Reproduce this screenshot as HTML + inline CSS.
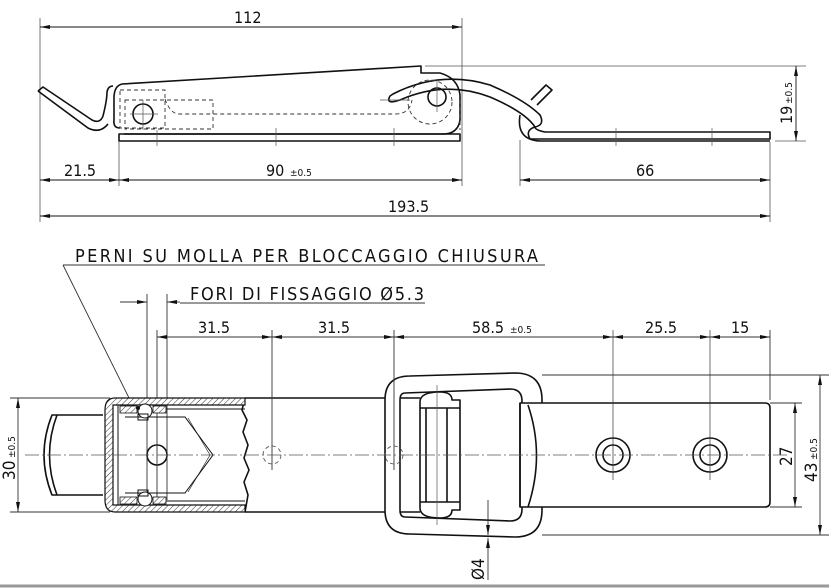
<!DOCTYPE html>
<html><head><meta charset="utf-8"><style>
html,body{margin:0;padding:0;background:#fff;}
svg{display:block;}
text{font-family:"DejaVu Sans Condensed","Liberation Sans",sans-serif;fill:#111;}
</style></head><body>
<svg width="829" height="588" viewBox="0 0 829 588" xmlns="http://www.w3.org/2000/svg">
<defs>
<pattern id="h" patternUnits="userSpaceOnUse" width="4" height="4" patternTransform="rotate(45)">
<rect width="4" height="4" fill="#fff"/><line x1="0" y1="0" x2="0" y2="4" stroke="#333" stroke-width="1"/></pattern>
<marker id="a" viewBox="0 0 10 4" refX="10" refY="2" markerWidth="10" markerHeight="4" orient="auto-start-reverse" markerUnits="userSpaceOnUse"><path d="M0,0L10,2L0,4z" fill="#111"/></marker>
</defs>
<rect width="829" height="588" fill="#fff"/>
<!-- ===== TOP VIEW ===== -->
<g stroke="#555" stroke-width="0.8" fill="none">
<line x1="40" y1="18" x2="40" y2="222"/>
<line x1="462" y1="18" x2="462" y2="186"/>
<line x1="119" y1="142" x2="119" y2="186"/>
<line x1="520" y1="140" x2="520" y2="186"/>
<line x1="770" y1="142" x2="770" y2="222"/>
<line x1="425" y1="66" x2="806" y2="66"/>
<line x1="775" y1="141" x2="806" y2="141"/>
</g>
<g stroke="#111" stroke-width="0.9" fill="none">
<line x1="40" y1="27" x2="462" y2="27" marker-start="url(#a)" marker-end="url(#a)"/>
<line x1="40" y1="180" x2="119" y2="180" marker-start="url(#a)" marker-end="url(#a)"/>
<line x1="119" y1="180" x2="462" y2="180" marker-start="url(#a)" marker-end="url(#a)"/>
<line x1="520" y1="180" x2="770" y2="180" marker-start="url(#a)" marker-end="url(#a)"/>
<line x1="40" y1="216" x2="770" y2="216" marker-start="url(#a)" marker-end="url(#a)"/>
<line x1="796" y1="66" x2="796" y2="141" marker-start="url(#a)" marker-end="url(#a)"/>
</g>
<text x="234" y="23" font-size="16">112</text>
<text x="64" y="176" font-size="16">21.5</text>
<text x="266" y="176" font-size="16">90</text><text x="290" y="176" font-size="10">±0.5</text>
<text x="636" y="176" font-size="16">66</text>
<text x="388" y="212" font-size="16">193.5</text>
<text transform="translate(792,124) rotate(-90)" font-size="16">19</text>
<text transform="translate(792,104) rotate(-90)" font-size="10">±0.5</text>
<!-- body -->
<g stroke="#111" stroke-width="1.6" fill="none" stroke-linejoin="round">
<path d="M120,128 Q113,128 114,120 L114,98 Q114,86 122,84 L421,66 L421,73 L440,73 Q458,78 460,95 L460,120 Q458,133 445,134 L124,134"/>
<rect x="119" y="134" width="341" height="7"/>
<path d="M38,91 L43,87 L92,120 Q100,124 103,116 Q107,100 107,92 Q108,86 113,86"/>
<path d="M38,91 L88,128 Q100,134 108,124"/>
<circle cx="143" cy="114" r="10"/>
<circle cx="437" cy="97" r="9"/>
<path d="M393,94 Q440,70 490,85 Q525,100 540,115 Q545,125 535,127 Q525,112 490,97 Q445,80 400,100 Q385,105 390,96 Z"/>
<path d="M535,127 Q525,130 530,139 L770,139 L770,132 L545,132 Q535,130 535,127"/>
<path d="M520,115 Q516,140 540,141 L770,141"/>
<path d="M531,100 L546,85 L552,90 L537,105"/>
</g>
<g stroke="#333" stroke-width="0.9" fill="none" stroke-dasharray="4,3">
<rect x="120" y="90" width="45" height="38"/>
<rect x="125" y="100" width="88" height="29"/>
<path d="M165,99 Q170,113 178,114 L395,114 Q410,114 412,100"/>
<circle cx="430" cy="102" r="22"/>
<line x1="460" y1="100" x2="460" y2="130"/>
</g>
<g stroke="#555" stroke-width="0.7">
<line x1="130" y1="114" x2="158" y2="114"/><line x1="143" y1="100" x2="143" y2="130"/>
<line x1="380" y1="100" x2="410" y2="100"/><line x1="437" y1="80" x2="437" y2="112"/>
<line x1="157" y1="130" x2="157" y2="146"/><line x1="276" y1="128" x2="276" y2="146"/><line x1="394" y1="128" x2="394" y2="146"/>
<line x1="616" y1="128" x2="616" y2="146"/><line x1="712" y1="128" x2="712" y2="146"/>
</g>
<!-- ===== BOTTOM VIEW ===== -->
<text x="75" y="262" font-size="18" textLength="463" lengthAdjust="spacing">PERNI SU MOLLA PER BLOCCAGGIO CHIUSURA</text>
<text x="190" y="300" font-size="18" textLength="234" lengthAdjust="spacing">FORI DI FISSAGGIO Ø5.3</text>
<g stroke="#111" stroke-width="1.6" fill="none" stroke-linejoin="round">
<path d="M103,415 L52,415 Q36,455 52,495 L103,495"/>
<path d="M57,415 Q42,455 57,495"/>
<line x1="245" y1="398" x2="420" y2="398"/><line x1="245" y1="512" x2="420" y2="512"/>
<path d="M245,398 L242,410 L247,420 L243,432 L248,445 L244,458 L249,470 L244,482 L248,495 L245,512"/>
<!-- buckle -->
<path d="M410,376 L515,373 Q542,373 542,400 L542,510 Q542,537 515,537 L410,534 Q385,534 385,510 L385,400 Q385,376 410,376 Z" fill="#fff"/>
<path d="M405,393 L510,389 Q522,389 522,401 L522,509 Q522,521 510,521 L405,517 Q400,517 400,510 L400,400 Q400,393 405,393 Z"/>
<line x1="400" y1="398" x2="420" y2="398"/><line x1="400" y1="512" x2="420" y2="512"/>
<path d="M520,403 L765,403 Q770,403 770,408 L770,502 Q770,507 765,507 L520,507 Z" fill="#fff"/>
<line x1="520" y1="403" x2="520" y2="507"/>
<path d="M528,405 Q545,455 528,507"/>
<path d="M420,402 Q420,392 440,392 Q452,392 452,400 L460,400 L460,510 L452,510 Q452,518 440,518 Q420,518 420,508 Z" fill="#fff"/>
<line x1="420" y1="408" x2="460" y2="408"/><line x1="420" y1="502" x2="460" y2="502"/>
<line x1="426" y1="408" x2="426" y2="502"/><line x1="447" y1="408" x2="447" y2="502"/>
<circle cx="613" cy="455" r="17"/><circle cx="613" cy="455" r="10"/>
<circle cx="710" cy="455" r="17"/><circle cx="710" cy="455" r="10"/>
<circle cx="157" cy="455" r="10"/>
</g>
<g stroke="#333" stroke-width="0.9" fill="none">
<line x1="63" y1="265" x2="545" y2="265"/>
<line x1="63" y1="265" x2="133" y2="406"/>
<line x1="180" y1="303" x2="425" y2="303"/>
<line x1="120" y1="302" x2="147" y2="302" marker-end="url(#a)"/>
<line x1="180" y1="302" x2="167" y2="302" marker-end="url(#a)"/>
<line x1="147" y1="294" x2="147" y2="500"/>
<line x1="157" y1="330" x2="157" y2="500"/>
<line x1="167" y1="294" x2="167" y2="500"/>
<line x1="272" y1="330" x2="272" y2="470"/>
<line x1="394" y1="330" x2="394" y2="470"/>
<line x1="613" y1="330" x2="613" y2="480" stroke-width="0.7"/>
<line x1="710" y1="330" x2="710" y2="480" stroke-width="0.7"/>
<line x1="770" y1="330" x2="770" y2="400"/>
<line x1="10" y1="398" x2="110" y2="398"/><line x1="10" y1="512" x2="110" y2="512"/>
<line x1="542" y1="375" x2="829" y2="375"/><line x1="542" y1="535" x2="829" y2="535"/>
<line x1="770" y1="403" x2="802" y2="403"/><line x1="770" y1="507" x2="802" y2="507"/>
<line x1="157" y1="337" x2="272" y2="337" marker-start="url(#a)" marker-end="url(#a)"/>
<line x1="272" y1="337" x2="394" y2="337" marker-start="url(#a)" marker-end="url(#a)"/>
<line x1="394" y1="337" x2="613" y2="337" marker-start="url(#a)" marker-end="url(#a)"/>
<line x1="613" y1="337" x2="710" y2="337" marker-start="url(#a)" marker-end="url(#a)"/>
<line x1="710" y1="337" x2="770" y2="337" marker-start="url(#a)" marker-end="url(#a)"/>
<line x1="18" y1="398" x2="18" y2="512" marker-start="url(#a)" marker-end="url(#a)"/>
<line x1="795" y1="403" x2="795" y2="507" marker-start="url(#a)" marker-end="url(#a)"/>
<line x1="820" y1="375" x2="820" y2="535" marker-start="url(#a)" marker-end="url(#a)"/>
<line x1="488" y1="500" x2="488" y2="535" marker-end="url(#a)"/>
<line x1="488" y1="580" x2="488" y2="538" marker-end="url(#a)"/>
</g>
<text x="198" y="333" font-size="16">31.5</text>
<text x="318" y="333" font-size="16">31.5</text>
<text x="472" y="333" font-size="16">58.5</text><text x="510" y="333" font-size="10">±0.5</text>
<text x="645" y="333" font-size="16">25.5</text>
<text x="731" y="333" font-size="16">15</text>
<text transform="translate(15,480) rotate(-90)" font-size="17">30</text>
<text transform="translate(15,458) rotate(-90)" font-size="10">±0.5</text>
<text transform="translate(792,466) rotate(-90)" font-size="17">27</text>
<text transform="translate(817,482) rotate(-90)" font-size="17">43</text>
<text transform="translate(817,460) rotate(-90)" font-size="10">±0.5</text>
<text transform="translate(484,580) rotate(-90)" font-size="17">Ø4</text>
<line x1="437" y1="385" x2="437" y2="525" stroke="#555" stroke-width="0.7"/>
<!-- housing -->
<path d="M245,398 L115,398 Q105,398 105,410 L105,500 Q105,512 115,512 L245,512 L245,505 L113,505 L113,405 L245,405 Z" fill="url(#h)" stroke="#111" stroke-width="1.2"/>
<rect x="120" y="406" width="17" height="7" fill="url(#h)" stroke="#111" stroke-width="0.8"/>
<rect x="153" y="406" width="13" height="7" fill="url(#h)" stroke="#111" stroke-width="0.8"/>
<rect x="120" y="497" width="17" height="7" fill="url(#h)" stroke="#111" stroke-width="0.8"/>
<rect x="153" y="497" width="13" height="7" fill="url(#h)" stroke="#111" stroke-width="0.8"/>
<g stroke="#111" stroke-width="1" fill="none">
<line x1="118" y1="405" x2="118" y2="505"/>
<line x1="166" y1="409" x2="245" y2="409"/><line x1="166" y1="501" x2="245" y2="501"/>
<path d="M125,417 L185,417 L213,455 L185,493 L125,493"/>
<path d="M188,418 L210,455 L188,492" stroke-width="0.6"/>
<circle cx="145" cy="411" r="7" fill="#fff"/><circle cx="145" cy="499" r="7" fill="#fff"/>
<rect x="138" y="414" width="10" height="6"/><rect x="138" y="490" width="10" height="6"/>
</g>
<circle cx="138" cy="408" r="2" fill="#111"/>
<g stroke="#444" stroke-width="0.8" fill="none" stroke-dasharray="4,3">
<circle cx="272" cy="455" r="9"/><circle cx="394" cy="455" r="9"/>
</g>
<!-- centerline -->
<line x1="25" y1="455" x2="790" y2="455" stroke="#555" stroke-width="0.7" stroke-dasharray="14,3,2,3"/>
<line x1="0" y1="586" x2="829" y2="586" stroke="#999" stroke-width="3"/>
</svg>
</body></html>
